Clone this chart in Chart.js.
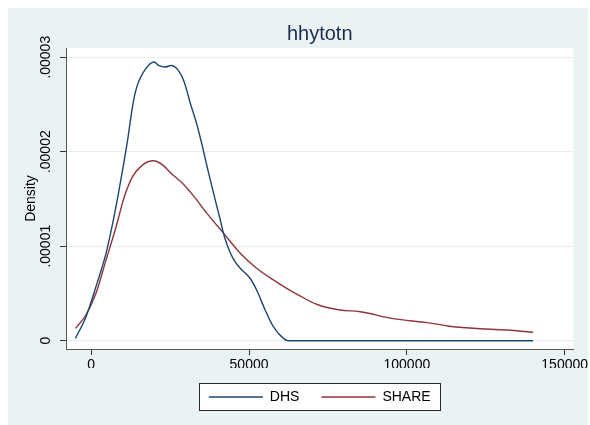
<!DOCTYPE html>
<html>
<head>
<meta charset="utf-8">
<script src="https://cdn.jsdelivr.net/npm/chart.js@4/dist/chart.umd.min.js"></script>
<style>
  html, body { margin: 0; padding: 0; background: #ffffff; }
  #panel { position: absolute; left: 8px; top: 8px; width: 580px; height: 417px; background: #eaf2f3; }
  #wrap { position: absolute; left: 0; top: 0; width: 590px; height: 425px; }
</style>
</head>
<body>
<div id="panel"></div>
<div id="wrap"><canvas id="c" width="590" height="425"></canvas></div>
<script>
// Kernel density estimates of household income (hhytotn)
const dhsIncome = [-5000, -1650, 1500, 4700, 6800, 8400, 10000, 11600, 12800, 13900, 15000, 16300,
  18100, 19900, 21500, 23400, 25300, 27400, 29400, 31500, 33200, 34900, 37000, 39200, 40800, 42200,
  43800, 45500, 47200, 50300, 52400, 55100, 57700, 60900, 62500, 140000];
const dhsDensity = [2.5e-7, 2.54e-6, 5.72e-6, 9.26e-6, 1.244e-5, 1.52e-5, 1.82e-5, 2.14e-5, 2.42e-5,
  2.62e-5, 2.74e-5, 2.83e-5, 2.913e-5, 2.949e-5, 2.91e-5, 2.896e-5, 2.913e-5, 2.868e-5, 2.744e-5,
  2.5e-5, 2.32e-5, 2.1e-5, 1.8e-5, 1.5e-5, 1.29e-5, 1.1e-5, 9.5e-6, 8.4e-6, 7.67e-6, 6.61e-6,
  5.37e-6, 3.25e-6, 1.48e-6, 2.5e-7, 0, 0];

const shareIncome = [-5000, -1700, 1500, 4700, 7900, 10500, 13100, 16300, 19700, 22600, 25800, 28900,
  32600, 36600, 41900, 47200, 52400, 57700, 62700, 66100, 71400, 78800, 85200, 95700, 106300,
  113000, 121000, 131700, 140000];
const shareDensity = [1.31e-6, 2.72e-6, 5.02e-6, 8.55e-6, 1.208e-5, 1.525e-5, 1.737e-5, 1.861e-5,
  1.904e-5, 1.861e-5, 1.755e-5, 1.667e-5, 1.525e-5, 1.35e-5, 1.138e-5, 9.26e-6, 7.67e-6, 6.43e-6,
  5.37e-6, 4.74e-6, 3.86e-6, 3.25e-6, 3.07e-6, 2.33e-6, 1.91e-6, 1.56e-6, 1.31e-6, 1.13e-6, 8.9e-7];

const seriesNames = ['DHS', 'SHARE'];
const xTickValues = [0, 50000, 100000, 150000];
const xTickLabels = ['0', '50000', '100000', '150000'];
const yTickValues = [0, 0.00001, 0.00002, 0.00003];
const yTickLabels = ['0', '.00001', '.00002', '.00003'];

const FONT = "'Liberation Sans', Arial, Helvetica, sans-serif";
Chart.defaults.font.family = FONT;
Chart.defaults.color = '#000';

const toPoints = (xs, ys) => xs.map((x, i) => ({ x: x, y: ys[i] }));

// White plot region and the framed legend box
const frames = {
  id: 'frames',
  beforeDraw(chart) {
    const { ctx, chartArea: a } = chart;
    ctx.save();
    ctx.fillStyle = '#ffffff';
    ctx.fillRect(a.left, a.top, a.right - a.left, a.bottom - a.top);
    const hb = chart.legend && chart.legend.legendHitBoxes;
    if (hb && hb.length) {
      const l = Math.round(Math.min(...hb.map(b => b.left)) - 10);
      const r = Math.round(Math.max(...hb.map(b => b.left + b.width)) + 9);
      const mid = hb[0].top + hb[0].height / 2;
      const t = Math.round(mid - 14);
      ctx.fillRect(l, t, r - l, 27);
      ctx.strokeStyle = '#2a2a2a';
      ctx.lineWidth = 1;
      ctx.strokeRect(l + 0.5, t + 0.5, r - l, 27);
    }
    ctx.restore();
  }
};

new Chart(document.getElementById('c'), {
  type: 'line',
  data: {
    datasets: [
      { label: seriesNames[0], data: toPoints(dhsIncome, dhsDensity), borderColor: '#1a476f',
        backgroundColor: '#1a476f', borderWidth: 1.4, pointRadius: 0, fill: false,
        cubicInterpolationMode: 'monotone' },
      { label: seriesNames[1], data: toPoints(shareIncome, shareDensity), borderColor: '#90353b',
        backgroundColor: '#90353b', borderWidth: 1.4, pointRadius: 0, fill: false,
        cubicInterpolationMode: 'monotone' }
    ]
  },
  options: {
    responsive: false,
    animation: false,
    devicePixelRatio: 1,
    layout: { padding: { left: 0, right: 16.5, top: 0, bottom: 11 } },
    plugins: {
      title: {
        display: true, text: 'hhytotn', fullSize: false, color: '#1c2a4d',
        font: { size: 20, weight: 'normal', family: FONT },
        padding: { top: 22, bottom: 2 }
      },
      legend: {
        position: 'bottom', fullSize: false,
        labels: {
          usePointStyle: true, pointStyle: 'line', pointStyleWidth: 54, padding: 22,
          color: '#000', font: { size: 14, family: FONT }
        }
      },
      tooltip: { enabled: false }
    },
    scales: {
      x: {
        type: 'linear', min: -8000, max: 152800,
        afterBuildTicks(s) { s.ticks = xTickValues.map(v => ({ value: v })); },
        afterFit(s) { s.height = 19; s.paddingLeft = 0; s.paddingRight = 0; },
        ticks: { callback: (v, i) => xTickLabels[i], padding: 2, maxRotation: 0, minRotation: 0,
          font: { size: 14 }, color: '#000' },
        grid: { drawOnChartArea: false, drawTicks: true, tickLength: 6, tickColor: '#333' },
        border: { display: true, color: '#555', width: 1 }
      },
      y: {
        type: 'linear', min: -8.79e-7, max: 3.0975e-5,
        afterBuildTicks(s) { s.ticks = yTickValues.map(v => ({ value: v })); },
        afterFit(s) { s.width = 66; s.paddingTop = 0; s.paddingBottom = 0; },
        ticks: { callback: (v, i) => yTickLabels[i], padding: -8, crossAlign: 'center',
          minRotation: 90, maxRotation: 90, font: { size: 14 }, color: '#000' },
        grid: { color: '#e7eff2', lineWidth: 1, drawTicks: true, tickLength: 6, tickColor: '#333' },
        border: { display: true, color: '#555', width: 1 },
        title: { display: true, text: 'Density', color: '#000', font: { size: 14 },
          padding: { top: 23, bottom: 0 } }
      }
    }
  },
  plugins: [frames]
});
</script>
</body>
</html>
